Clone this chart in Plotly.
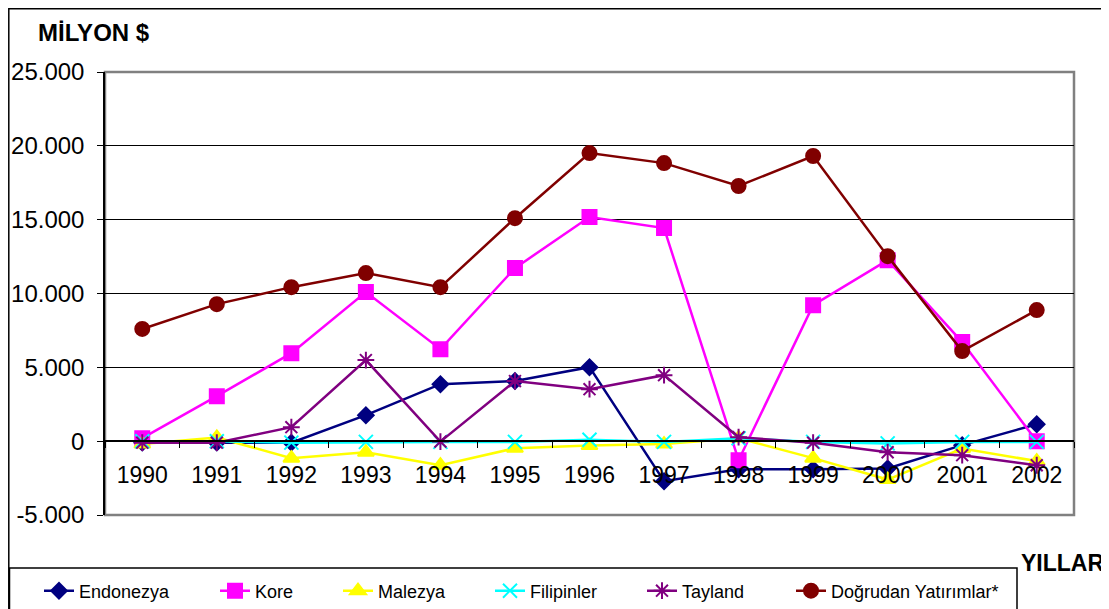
import plotly.graph_objects as go

years = ["1990", "1991", "1992", "1993", "1994", "1995", "1996", "1997", "1998", "1999", "2000", "2001", "2002"]

endonezya = [-100, -100, -100, 1760, 3860, 4070, 5010, -2710, -1900, -1900, -1850, -270, 1150]
kore = [200, 3050, 5960, 10100, 6230, 11720, 15180, 14430, -1290, 9210, 12260, 6710, 0]
malezya = [-200, 250, -1150, -750, -1630, -480, -300, -200, 200, -1150, -2600, -500, -1350]
filipinler = [0, 0, -100, -50, -50, -50, 100, -50, 200, -50, -150, -50, -50]
tayland = [-100, -100, 950, 5490, -30, 4070, 3520, 4470, 270, -100, -750, -950, -1630]
dogrudan = [7600, 9280, 10430, 11380, 10430, 15100, 19510, 18830, 17280, 19310, 12530, 6100, 8875]

y_tickvals = [-5000, 0, 5000, 10000, 15000, 20000, 25000]
y_ticktext = ["-5.000", "0", "5.000", "10.000", "15.000", "20.000", "25.000"]

series = [
    ("Endonezya", endonezya, "#000080", "diamond", 12),
    ("Kore", kore, "#FF00FF", "square", 14),
    ("Malezya", malezya, "#FFFF00", "triangle-up", 14),
    ("Filipinler", filipinler, "#00FFFF", "x-thin-open", 14),
    ("Tayland", tayland, "#800080", "asterisk-open", 14),
    ("Doğrudan Yatırımlar*", dogrudan, "#800000", "circle", 14),
]

# page offset of the figure (browser body margin)
OFF = 8
W, H = 1109 - OFF, 609 - OFF
# plot area in page pixels: x 105..1074, y 72..515
L = 105 - OFF
T = 72 - OFF
R = W - (1074 - OFF)
B = H - (515 - OFF)
pw, ph = W - L - R, H - T - B


def px(x):
    return (x - OFF - L) / pw


def py(y):
    return (H - B - (y - OFF)) / ph


# left pixel of legend text in the reference, per entry
legend_text_px = [80, 256, 379, 531, 683, 832]

fig = go.Figure()
legends = {}
for i, (name, vals, color, sym, size) in enumerate(series):
    key = "legend" if i == 0 else f"legend{i + 1}"
    fig.add_trace(go.Scatter(
        x=years, y=vals, name=name, mode="lines+markers",
        line=dict(color=color, width=2.5),
        marker=dict(symbol=sym, size=size, color=color,
                    line=dict(color=color, width=2)),
        legend=key,
    ))
    legends[key] = dict(
        x=px(legend_text_px[i] - 41), y=py(591), xanchor="left", yanchor="middle",
        orientation="h", bgcolor="rgba(0,0,0,0)", borderwidth=0,
        font=dict(family="Liberation Sans, Arial, sans-serif", size=18, color="black"),
    )

shapes = [
    # outer chart border
    dict(type="rect", xref="paper", yref="paper", x0=px(8.8), y0=py(8.8), x1=px(1130), y1=py(630),
         line=dict(color="black", width=1.5), layer="below"),
    # legend box
    dict(type="rect", xref="paper", yref="paper", x0=px(9.5), y0=py(568), x1=px(1017), y1=py(630),
         line=dict(color="black", width=1.5), fillcolor="white", layer="below"),
    # plot area border
    dict(type="rect", xref="paper", yref="paper", x0=0, y0=0, x1=1, y1=1,
         line=dict(color="#808080", width=2.5), layer="below"),
]

fig.update_layout(
    width=W, height=H,
    margin=dict(l=L, r=R, t=T, b=B, autoexpand=False),
    paper_bgcolor="white", plot_bgcolor="white",
    font=dict(family="Liberation Sans, Arial, sans-serif", color="black"),
    showlegend=True,
    shapes=shapes,
    annotations=[
        dict(text="<b>MİLYON $</b>", xref="paper", yref="paper", x=px(36), y=py(33),
             xanchor="left", yanchor="middle", showarrow=False, font=dict(size=24)),
        dict(text="<b>YILLAR</b>", xref="paper", yref="paper", x=px(1106), y=py(563),
             xanchor="right", yanchor="middle", showarrow=False, font=dict(size=23)),
    ],
    **legends,
)

fig.update_yaxes(
    range=[-5000, 25000], tickvals=y_tickvals, ticktext=y_ticktext,
    showgrid=True, gridcolor="black", gridwidth=1,
    showline=True, linecolor="black", linewidth=1.5,
    ticks="outside", ticklen=6, tickcolor="black", ticklabelstandoff=8,
    tickfont=dict(size=24), zeroline=False,
)
fig.update_xaxes(
    type="category", anchor="free", position=py(441),
    showline=True, linecolor="black", linewidth=1.5,
    ticks="outside", tickson="boundaries", ticklen=6, tickcolor="black",
    ticklabelstandoff=14,
    tickfont=dict(size=23), showgrid=False, zeroline=False,
    range=[-0.5, 12.5],
)

fig.write_html("out.html")
